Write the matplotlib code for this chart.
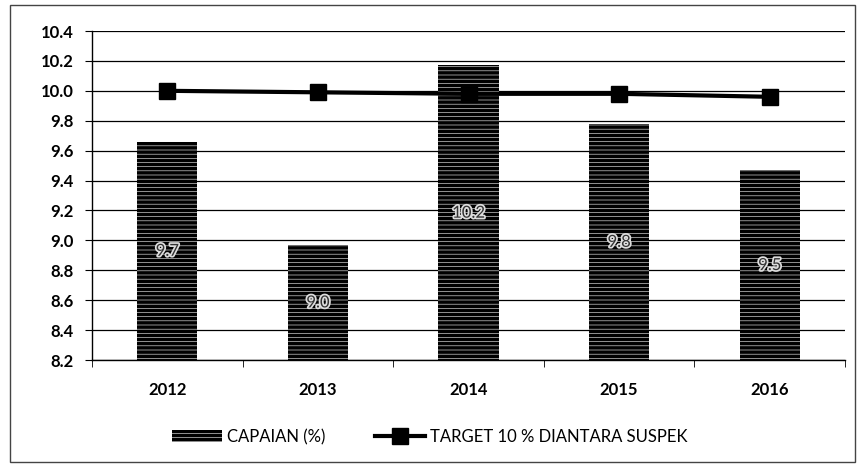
import matplotlib.pyplot as plt
import matplotlib.patheffects as pe
from matplotlib.patches import Rectangle
import numpy as np

years = ["2012", "2013", "2014", "2015", "2016"]
capaian = [9.66, 8.97, 10.17, 9.78, 9.47]
capaian_labels = ["9.7", "9.0", "10.2", "9.8", "9.5"]
target = [10.00, 9.99, 9.98, 9.98, 9.96]
yticks = [8.2, 8.4, 8.6, 8.8, 9.0, 9.2, 9.4, 9.6, 9.8, 10.0, 10.2, 10.4]

plt.rcParams.update({
    "font.family": ["Lato", "DejaVu Sans"],
    "font.size": 11,
    "hatch.linewidth": 2.6,
    "hatch.color": "black",
})

fig = plt.figure(figsize=(8.6, 4.73), dpi=100)
ax = fig.add_axes([92 / 860, 1 - 360 / 473, 753 / 860, 329 / 473])

# outer chart frame
fig.add_artist(Rectangle((10 / 860, 1 - 462 / 473), 845 / 860, 457 / 473,
                         transform=fig.transFigure, fill=False,
                         edgecolor="#444444", linewidth=1.0))

x = np.arange(len(years))
base = yticks[0]
heights = [v - base for v in capaian]

ax.set_axisbelow(True)
ax.grid(axis="y", color="black", linewidth=0.9)

bars = ax.bar(x, heights, bottom=base, width=0.4, color="white",
              edgecolor="black", linewidth=0, hatch="----",
              label="CAPAIAN (%)", zorder=2)

for xi, v, lab in zip(x, capaian, capaian_labels):
    ax.text(xi, (base + v) / 2, lab, ha="center", va="center",
            fontsize=12, color="#333333", zorder=3,
            path_effects=[pe.withStroke(linewidth=2.5, foreground="#dddddd")])

line, = ax.plot(x, target, color="black", linewidth=3, marker="s",
                markersize=11, label="TARGET 10 % DIANTARA SUSPEK", zorder=4)

ax.set_xlim(-0.5, len(years) - 0.5)
ax.set_ylim(yticks[0], yticks[-1])
ax.set_yticks(yticks)
ax.set_yticklabels([f"{t:.1f}" for t in yticks], fontsize=12, fontweight="bold")
ax.set_xticks(x)
ax.set_xticklabels(years, fontsize=12, fontweight="bold")
ax.set_xticks(np.arange(len(years) + 1) - 0.5, minor=True)
ax.tick_params(axis="x", which="major", length=0, pad=16)
ax.tick_params(axis="x", which="minor", length=5, direction="out")
ax.tick_params(axis="y", length=5, pad=8)

for side in ["top", "right"]:
    ax.spines[side].set_visible(False)
ax.spines["left"].set_linewidth(1.0)
ax.spines["bottom"].set_linewidth(1.0)

fig.legend(handles=[bars, line], loc="center",
           bbox_to_anchor=(0.5, 1 - 437 / 473), ncol=2,
           frameon=False, fontsize=12, handlelength=3, columnspacing=3,
           handletextpad=0.3)

fig.savefig("out.png", dpi=100)
